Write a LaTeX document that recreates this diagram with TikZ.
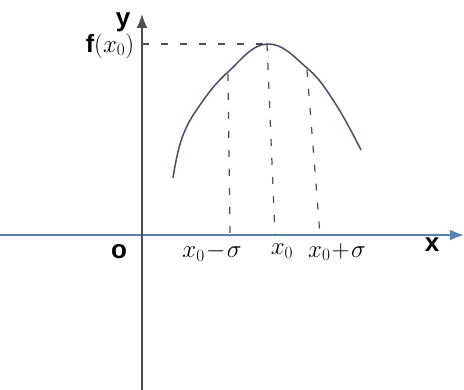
\documentclass[tikz,border=0pt]{standalone}
\usepackage{amsmath,amssymb}
\usepackage{xcolor}
\usepackage{fontspec}
\newfontfamily\axisfont{Liberation Sans}
\usepackage{tikz}
\usetikzlibrary{arrows,arrows.meta,positioning,calc}

\definecolor{axisgray}{rgb}{0.30,0.30,0.33}
\definecolor{axisblue}{rgb}{0.35,0.50,0.70}
\definecolor{curvecol}{rgb}{0.30,0.30,0.42}

\begin{document}
\begin{tikzpicture}[x=1pt, y=-1pt, thick]
    \useasboundingbox (0,0) rectangle (464,390);
    \tikzset{axlabel/.style={font=\axisfont\bfseries\fontsize{26}{28}\selectfont, inner sep=0pt}}
    \tikzset{handlabel/.style={font=\fontsize{25}{27}\selectfont, inner sep=0pt}}
    \tikzset{guide/.style={draw, dash pattern=on 7pt off 12pt, line width=1.2pt, color=axisgray}}
    \tikzset{axis/.style={draw, -{Latex[length=14pt, width=11pt]}, line width=1.8pt}}

    % axes
    \coordinate (o) at (142,235);
    \coordinate (xl) at (0,235);
    \coordinate (xr) at (464,235);
    \coordinate (yb) at (142,390);
    \coordinate (yt) at (142,14);
    \path [axis, color=axisblue] (xl) -- (xr);
    \path [axis, color=axisgray] (yb) -- (yt);

    % curve
    \coordinate (top) at (267,44);
    \draw [line width=1.5pt, color=curvecol] plot [smooth, tension=0.7] coordinates
        {(173,178) (182,138) (200,105) (228,72) (top) (307,68) (335,103) (361,150)};

    % guides
    \coordinate (fy) at (142,44);
    \coordinate (la) at (228,74);
    \coordinate (lb) at (230,235);
    \coordinate (mb) at (275,235);
    \coordinate (ra) at (307,70);
    \coordinate (rb) at (320,235);
    \path [guide] (fy) -- (top);
    \path [guide] (la) -- (lb);
    \path [guide] (top) -- (mb);
    \path [guide] (ra) -- (rb);

    % labels
    \node [axlabel] (ylab) at (123,22) {y};
    \node [axlabel] (xlab) at (432,245) {x};
    \node [axlabel] (olab) at (119,252) {o};
    \node [handlabel] (flab) at (110,46) {{\axisfont\bfseries f}$(x_0)$};
    \node [handlabel] (xm) at (212,252) {$x_0\!-\!\sigma$};
    \node [handlabel] (x0) at (282,251) {$x_0$};
    \node [handlabel] (xp) at (337,252) {$x_0\!+\!\sigma$};
\end{tikzpicture}
\end{document}
